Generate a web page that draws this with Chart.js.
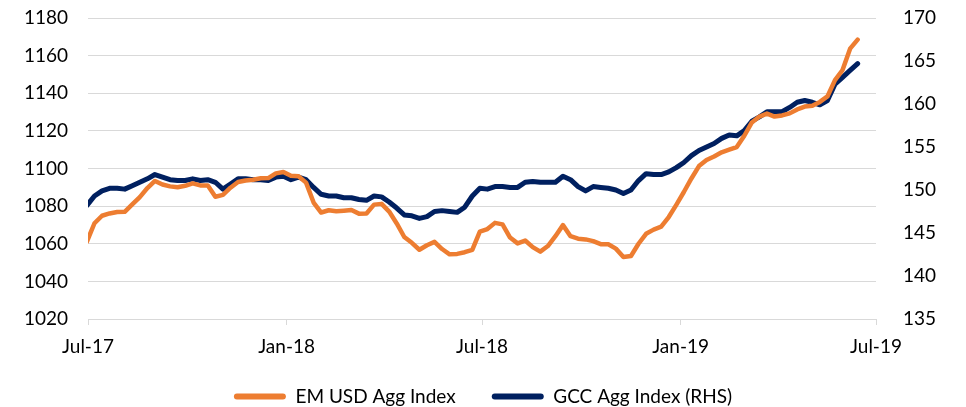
<!DOCTYPE html>
<html>
<head>
<meta charset="utf-8">
<script src="https://cdn.jsdelivr.net/npm/chart.js@4.4.1/dist/chart.umd.min.js"></script>
<style>
  html, body { margin: 0; padding: 0; background: #fff; }
  #wrap { width: 966px; height: 407px; position: relative; }
</style>
</head>
<body>
<div id="wrap"><canvas id="chart"></canvas></div>
<script>
// ── Data (weekly) ─────────────────────────────────────────────────────────────
const weeks = [
  "2017-06-30","2017-07-07","2017-07-14","2017-07-21","2017-07-28","2017-08-04","2017-08-11","2017-08-18","2017-08-25","2017-09-01",
  "2017-09-08","2017-09-15","2017-09-22","2017-09-29","2017-10-06","2017-10-13","2017-10-20","2017-10-27","2017-11-03","2017-11-10",
  "2017-11-17","2017-11-24","2017-12-01","2017-12-08","2017-12-15","2017-12-22","2017-12-29","2018-01-05","2018-01-12","2018-01-19",
  "2018-01-26","2018-02-02","2018-02-09","2018-02-16","2018-02-23","2018-03-02","2018-03-09","2018-03-16","2018-03-23","2018-03-30",
  "2018-04-06","2018-04-13","2018-04-20","2018-04-27","2018-05-04","2018-05-11","2018-05-18","2018-05-25","2018-06-01","2018-06-08",
  "2018-06-15","2018-06-22","2018-06-29","2018-07-06","2018-07-13","2018-07-20","2018-07-27","2018-08-03","2018-08-10","2018-08-17",
  "2018-08-24","2018-08-31","2018-09-07","2018-09-14","2018-09-21","2018-09-28","2018-10-05","2018-10-12","2018-10-19","2018-10-26",
  "2018-11-02","2018-11-09","2018-11-16","2018-11-23","2018-11-30","2018-12-07","2018-12-14","2018-12-21","2018-12-28","2019-01-04",
  "2019-01-11","2019-01-18","2019-01-25","2019-02-01","2019-02-08","2019-02-15","2019-02-22","2019-03-01","2019-03-08","2019-03-15",
  "2019-03-22","2019-03-29","2019-04-05","2019-04-12","2019-04-19","2019-04-26","2019-05-03","2019-05-10","2019-05-17","2019-05-24",
  "2019-05-31","2019-06-07","2019-06-14"
];

const emUsdAgg = [
  1061.1, 1070.9, 1074.9, 1076.1, 1076.9, 1077.0, 1080.9, 1084.8, 1089.6, 1093.4,
  1091.5, 1090.5, 1090.0, 1090.8, 1092.1, 1091.0, 1091.0, 1085.0, 1086.0, 1089.8,
  1092.8, 1093.6, 1094.0, 1094.8, 1094.9, 1097.4, 1098.1, 1096.1, 1095.9, 1092.5,
  1081.9, 1076.6, 1077.8, 1077.3, 1077.6, 1077.9, 1076.0, 1076.1, 1080.8, 1081.2,
  1077.1, 1070.8, 1063.6, 1060.5, 1056.8, 1059.2, 1061.0, 1057.2, 1054.4, 1054.6,
  1055.5, 1056.8, 1066.4, 1067.8, 1071.1, 1070.3, 1063.3, 1060.2, 1061.7, 1058.2,
  1055.8, 1058.8, 1064.0, 1069.9, 1064.0, 1062.7, 1062.3, 1061.4, 1059.8, 1059.7,
  1057.4, 1053.0, 1053.5, 1060.0, 1065.3, 1067.5, 1069.1, 1074.2, 1080.7, 1087.5,
  1094.7, 1101.3, 1104.5, 1106.4, 1108.6, 1110.0, 1111.4, 1117.4, 1124.5, 1127.6,
  1129.2, 1127.6, 1128.2, 1129.3, 1131.4, 1132.9, 1133.4, 1135.4, 1138.3, 1147.0,
  1152.3, 1163.7, 1168.5
];

const gccAgg = [
  148.2, 149.3, 149.9, 150.2, 150.2, 150.1, 150.5, 150.9, 151.3, 151.8,
  151.5, 151.2, 151.1, 151.1, 151.3, 151.1, 151.2, 150.9, 150.1, 150.7,
  151.3, 151.3, 151.2, 151.2, 151.1, 151.5, 151.6, 151.2, 151.5, 151.2,
  150.3, 149.5, 149.3, 149.3, 149.1, 149.1, 148.9, 148.8, 149.3, 149.2,
  148.6, 147.9, 147.1, 147.0, 146.7, 146.9, 147.5, 147.6, 147.5, 147.4,
  148.0, 149.3, 150.2, 150.1, 150.4, 150.4, 150.3, 150.3, 150.9, 151.0,
  150.9, 150.9, 150.9, 151.6, 151.2, 150.4, 149.9, 150.4, 150.3, 150.2,
  150.0, 149.6, 150.0, 151.1, 151.9, 151.8, 151.8, 152.1, 152.6, 153.2,
  154.0, 154.6, 155.0, 155.4, 156.0, 156.4, 156.3, 156.9, 158.0, 158.5,
  159.1, 159.1, 159.1, 159.6, 160.2, 160.4, 160.2, 159.9, 160.4, 162.3,
  163.1, 163.9, 164.7
];

const tickDates  = ["2017-07-01", "2018-01-01", "2018-07-01", "2019-01-01", "2019-07-01"];
const tickLabels = ["Jul-17", "Jan-18", "Jul-18", "Jan-19", "Jul-19"];

// ── Helpers ───────────────────────────────────────────────────────────────────
const ORIGIN = Date.parse(tickDates[0]);
const dayOf  = s => (Date.parse(s) - ORIGIN) / 86400000;
const tickDays = tickDates.map(dayOf);

const ORANGE = "#ED7D31";
const NAVY   = "#002060";
const GRID   = "#d9d9d9";

Chart.defaults.font.family = "Lato, 'Open Sans', sans-serif";
Chart.defaults.font.size = 19;
Chart.defaults.color = "#000";

// y axes: fixed widths, and don't let tick padding push the plot top down
const fitY = width => s => { s.width = width; s.paddingTop = 10; s.paddingBottom = 10; };

new Chart(document.getElementById("chart"), {
  type: "line",
  data: {
    datasets: [
      {
        label: "EM USD Agg Index",
        data: weeks.map((w, i) => ({ x: dayOf(w), y: emUsdAgg[i] })),
        borderColor: ORANGE, backgroundColor: ORANGE,
        borderWidth: 4.5, pointRadius: 0, tension: 0,
        borderJoinStyle: "round", borderCapStyle: "round",
        yAxisID: "y",
      },
      {
        label: "GCC Agg Index (RHS)",
        data: weeks.map((w, i) => ({ x: dayOf(w), y: gccAgg[i] })),
        borderColor: NAVY, backgroundColor: NAVY,
        borderWidth: 5, pointRadius: 0, tension: 0,
        borderJoinStyle: "round", borderCapStyle: "round",
        yAxisID: "y2",
      },
    ]
  },
  options: {
    responsive: true, maintainAspectRatio: false,
    animation: false,
    layout: { padding: { top: 18, left: 0, right: 0, bottom: -9 } },
    plugins: {
      tooltip: { enabled: false },
      legend: {
        position: "bottom",
        labels: {
          boxWidth: 52, boxHeight: 6, padding: 2,
          useBorderRadius: true, borderRadius: 3,
          generateLabels: chart =>
            Chart.defaults.plugins.legend.labels.generateLabels(chart).map((l, i) => ({
              ...l, lineWidth: 0,
              text: i === 0 ? l.text + "       " : l.text,
            })),
        }
      }
    },
    scales: {
      x: {
        type: "linear", min: 0, max: tickDays[tickDays.length - 1],
        afterBuildTicks: s => { s.ticks = tickDays.map(v => ({ value: v })); },
        afterFit: s => { s.height = 66; },
        ticks: {
          padding: 10, autoSkip: false, maxRotation: 0,
          callback: v => tickLabels[tickDays.indexOf(v)] ?? "",
        },
        grid: { drawOnChartArea: false, drawTicks: true, tickLength: 6, color: GRID },
        border: { display: true, color: GRID, width: 1 },
      },
      y: {
        position: "left", min: 1020, max: 1180,
        afterFit: fitY(88),
        ticks: { stepSize: 20, padding: 20, callback: v => String(v) },
        grid: { color: GRID, drawTicks: false },
        border: { display: false },
      },
      y2: {
        position: "right", min: 135, max: 170,
        afterFit: fitY(90),
        ticks: { stepSize: 5, padding: 27, callback: v => String(v) },
        grid: { display: false, drawTicks: false },
        border: { display: false },
      },
    }
  }
});
</script>
</body>
</html>
